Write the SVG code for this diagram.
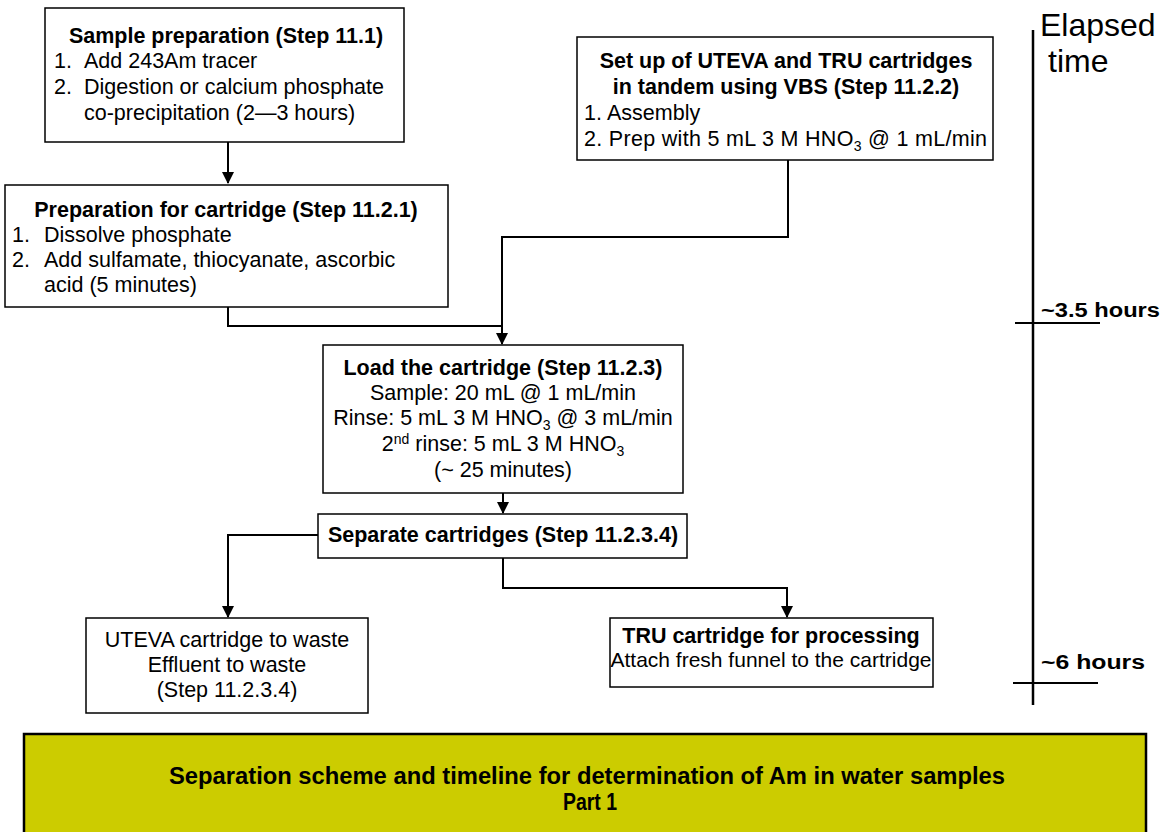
<svg xmlns="http://www.w3.org/2000/svg" width="1167" height="832" viewBox="0 0 1167 832">
<style>
text{font-family:"Liberation Sans",Arial,sans-serif;font-size:21.5px;fill:#000}
.b{font-weight:bold}
.c{text-anchor:middle}
.box{fill:#fff;stroke:#000;stroke-width:1.5}
.con{fill:none;stroke:#000;stroke-width:2}
.sub{font-size:14px}
</style>
<defs>
<marker id="ah" markerUnits="userSpaceOnUse" markerWidth="12" markerHeight="12" refX="11" refY="6" orient="auto">
<path d="M0,0 L12,6 L0,12 z" fill="#000"/>
</marker>
</defs>
<rect width="1167" height="832" fill="#fff"/>
<g id="connectors">
<path class="con" d="M228,142 V183" marker-end="url(#ah)"/>
<path class="con" d="M228,307 V326 H502 V344" marker-end="url(#ah)"/>
<path class="con" d="M788,160 V237 H502 V326"/>
<path class="con" d="M503,493 V513" marker-end="url(#ah)"/>
<path class="con" d="M318,535 H228 V617" marker-end="url(#ah)"/>
<path class="con" d="M503,558 V588 H787 V617" marker-end="url(#ah)"/>
</g>
<g id="sample-prep">
<rect class="box" x="45" y="8" width="359" height="134"/>
<text class="b c" x="226" y="43">Sample preparation (Step 11.1)</text>
<text x="54" y="68">1.</text><text x="84" y="68">Add 243Am tracer</text>
<text x="54" y="94">2.</text><text x="84" y="94">Digestion or calcium phosphate</text>
<text x="84" y="120">co-precipitation (2—3 hours)</text>
</g>
<g id="prep-cartridge">
<rect class="box" x="5" y="185" width="443" height="122"/>
<text class="b c" x="226" y="217">Preparation for cartridge (Step 11.2.1)</text>
<text x="12" y="242">1.</text><text x="44" y="242">Dissolve phosphate</text>
<text x="12" y="267">2.</text><text x="44" y="267">Add sulfamate, thiocyanate, ascorbic</text>
<text x="44" y="292">acid (5 minutes)</text>
</g>
<g id="setup">
<rect class="box" x="577" y="37" width="416" height="123"/>
<text class="b c" x="786" y="68">Set up of UTEVA and TRU cartridges</text>
<text class="b c" x="786" y="94">in tandem using VBS (Step 11.2.2)</text>
<text x="584" y="120">1.</text><text x="607" y="120">Assembly</text>
<text x="584" y="146" textLength="403" lengthAdjust="spacing">2. Prep with 5 mL 3 M HNO<tspan class="sub" dy="5">3</tspan><tspan dy="-5"> @ 1 mL/min</tspan></text>
</g>
<g id="load">
<rect class="box" x="323" y="345" width="360" height="148"/>
<text class="b c" x="503" y="375">Load the cartridge (Step 11.2.3)</text>
<text class="c" x="503" y="400">Sample: 20 mL @ 1 mL/min</text>
<text class="c" x="503" y="425">Rinse: 5 mL 3 M HNO<tspan class="sub" dy="5">3</tspan><tspan dy="-5"> @ 3 mL/min</tspan></text>
<text class="c" x="503" y="451">2<tspan class="sub" dy="-7">nd</tspan><tspan dy="7"> rinse: 5 mL 3 M HNO</tspan><tspan class="sub" dy="5">3</tspan></text>
<text class="c" x="503" y="477">(~ 25 minutes)</text>
</g>
<g id="separate">
<rect class="box" x="318" y="514" width="369" height="44"/>
<text class="b c" x="503" y="542">Separate cartridges (Step 11.2.3.4)</text>
</g>
<g id="uteva">
<rect class="box" x="86" y="618" width="282" height="95"/>
<text class="c" x="227" y="647">UTEVA cartridge to waste</text>
<text class="c" x="227" y="672">Effluent to waste</text>
<text class="c" x="227" y="697">(Step 11.2.3.4)</text>
</g>
<g id="tru">
<rect class="box" x="610" y="618" width="323" height="69"/>
<text class="b c" x="771" y="643">TRU cartridge for processing</text>
<text class="c" x="771" y="667" style="font-size:21px">Attach fresh funnel to the cartridge</text>
</g>
<g id="timeline">
<line x1="1033" y1="30" x2="1033" y2="705" stroke="#000" stroke-width="2.5"/>
<line x1="1015" y1="323" x2="1100" y2="323" stroke="#000" stroke-width="2"/>
<line x1="1013" y1="683" x2="1098" y2="683" stroke="#000" stroke-width="2"/>
<text x="1040" y="36" style="font-size:32px">Elapsed</text>
<text x="1048" y="72" style="font-size:32px">time</text>
<text class="b" x="1041" y="317" style="font-size:20px" textLength="119" lengthAdjust="spacingAndGlyphs">~3.5 hours</text>
<text class="b" x="1041" y="669" style="font-size:20px" textLength="104" lengthAdjust="spacingAndGlyphs">~6 hours</text>
</g>
<g id="footer">
<rect x="24" y="734" width="1122" height="110" fill="#CCCC00" stroke="#000" stroke-width="2.5"/>
<text class="b c" x="587" y="784" style="font-size:24px" textLength="836" lengthAdjust="spacingAndGlyphs">Separation scheme and timeline for determination of Am in water samples</text>
<text class="b c" x="590" y="810" style="font-size:24px" textLength="54" lengthAdjust="spacingAndGlyphs">Part 1</text>
</g>
</svg>
